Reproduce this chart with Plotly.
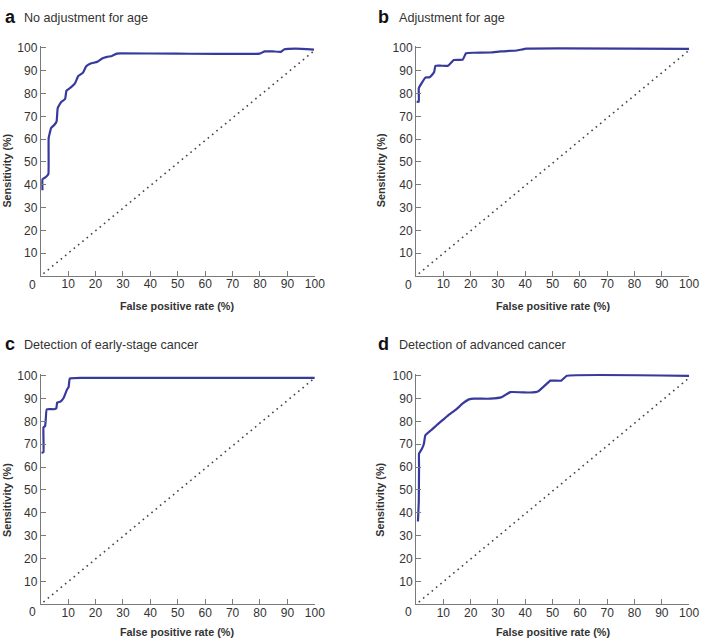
import plotly.graph_objects as go

# ---------------- data ----------------
a_fpr = [0.65, 0.65, 2.0, 2.8, 2.9, 3.8, 5.0, 5.8, 6.2, 7.4, 8.9, 9.4, 11.0, 12.5, 13.7, 15.4, 16.6,
         18.2, 20.6, 22.4, 24.2, 26.0, 27.8, 29.0, 50.0, 79.9, 81.7, 84.6, 87.6, 88.9, 93.1, 99.7]
a_sens = [37.6, 42.4, 43.5, 44.6, 60.5, 64.9, 66.3, 67.8, 73.6, 76.2, 77.6, 81.3, 82.7, 84.5, 87.7, 89.1, 92.0,
          93.2, 93.9, 95.4, 96.1, 96.5, 97.5, 97.6, 97.5, 97.5, 98.5, 98.5, 98.3, 99.4, 99.7, 99.3]

b_fpr = [0.2, 1.0, 1.0, 2.0, 3.5, 5.0, 6.6, 7.1, 9.3, 11.7, 13.8, 17.1, 18.3, 21.3, 27.3, 30.9, 36.9, 40.5, 100.0]
b_sens = [76.4, 76.4, 82.3, 84.5, 87.1, 87.1, 89.3, 92.2, 92.2, 92.2, 94.7, 94.9, 97.7, 97.9, 98.0, 98.5, 98.9, 99.7, 99.6]

c_fpr = [0.3, 1.0, 1.0, 1.6, 1.8, 2.2, 4.8, 5.7, 6.0, 7.2, 8.4, 9.6, 10.2, 10.6, 15.1, 100.0]
c_sens = [66.2, 66.5, 77.3, 78.0, 80.2, 85.3, 85.3, 85.7, 88.2, 88.6, 90.3, 93.9, 95.1, 98.7, 99.0, 99.0]

d_fpr = [0.7, 1.0, 1.1, 1.1, 2.2, 2.9, 3.4, 5.5, 7.9, 10.4, 12.2, 14.6, 17.0, 19.4, 21.2, 27.2, 31.4,
         34.5, 41.7, 44.8, 47.2, 49.2, 53.2, 55.2, 100.0]
d_sens = [36.2, 44.9, 60.1, 65.9, 68.1, 70.3, 73.9, 76.1, 78.7, 81.2, 83.0, 85.1, 87.7, 89.6, 89.9, 89.9, 90.6,
          92.8, 92.6, 93.2, 95.7, 97.8, 97.8, 99.9, 99.9]

diag_x = [1, 100]
diag_y = [1, 99]

letters = ["a", "b", "c", "d"]
titles = ["No adjustment for age", "Adjustment for age",
          "Detection of early-stage cancer", "Detection of advanced cancer"]
tick_vals = [10, 20, 30, 40, 50, 60, 70, 80, 90, 100]
tick_text = [str(v) for v in tick_vals]
x_title = "False positive rate (%)"
y_title = "Sensitivity (%)"

curves = [(a_fpr, a_sens), (b_fpr, b_sens), (c_fpr, c_sens), (d_fpr, d_sens)]

# ---------------- layout geometry (pixels) ----------------
W, H = 709, 644
YMAX = 100.8
# (x0px, x100px, y0px, px per unit y)
geo = [
    (41.3, 319.3, 273.0, 2.297),
    (422.0, 699.0, 273.0, 2.297),
    (41.3, 319.3, 604.0, 2.305),
    (422.0, 699.0, 604.0, 2.305),
]

FONT = "Arial, Liberation Sans, Helvetica, sans-serif"
CURVE = "#373a9c"
AXC = "#7a7a7a"
TXT = "#333333"

fig = go.Figure()
layout = dict(width=W, height=H, margin=dict(l=0, r=0, t=0, b=0),
              paper_bgcolor="white", plot_bgcolor="white", showlegend=False,
              font=dict(family=FONT, color=TXT, size=12))
annotations = []


def px(x):
    return x / W


def py(y):
    return 1 - y / H


for i, (g, (fx, sy)) in enumerate(zip(geo, curves)):
    x0, x1, y0, pu = g
    ytop = y0 - YMAX * pu
    xa = "x" if i == 0 else f"x{i+1}"
    ya = "y" if i == 0 else f"y{i+1}"
    xkey = "xaxis" if i == 0 else f"xaxis{i+1}"
    ykey = "yaxis" if i == 0 else f"yaxis{i+1}"
    common = dict(showgrid=False, zeroline=False, showline=True, linecolor=AXC, linewidth=1,
                  ticks="inside", ticklen=5, tickcolor=AXC, tickwidth=1,
                  tickvals=tick_vals, ticktext=tick_text,
                  tickfont=dict(family=FONT, size=12, color=TXT), fixedrange=True)
    layout[xkey] = dict(common, domain=[px(x0), px(x1)], range=[0, 100], anchor=ya,
                        ticklabelstandoff=-3)
    layout[ykey] = dict(common, domain=[py(y0), py(ytop)], range=[0, YMAX], anchor=xa)

    fig.add_trace(go.Scatter(x=diag_x, y=diag_y, mode="lines", xaxis=xa, yaxis=ya,
                             line=dict(color="#444444", width=1.6, dash="1.6px,4px"),
                             hoverinfo="skip"))
    fig.add_trace(go.Scatter(x=fx, y=sy, mode="lines", xaxis=xa, yaxis=ya,
                             line=dict(color=CURVE, width=2.2, shape="spline", smoothing=0.3)))

    left = i % 2 == 0
    top = i < 2
    # panel letter and title
    ty = 12 if top else 342
    lx = 3 if left else 381
    tx = 22 if left else 403
    annotations.append(dict(x=px(lx), y=py(ty), xref="paper", yref="paper", xanchor="left", yanchor="middle",
                            text=f"<b>{letters[i]}</b>", showarrow=False,
                            font=dict(family=FONT, size=18, color="#111111")))
    annotations.append(dict(x=px(tx), y=py(ty + 1), xref="paper", yref="paper", xanchor="left", yanchor="middle",
                            text=titles[i], showarrow=False,
                            font=dict(family=FONT, size=12.6, color=TXT)))
    # y title
    yt_x = 7 if left else 386
    yt_y = 167 if top else 499
    annotations.append(dict(x=px(yt_x), y=py(yt_y), xref="paper", yref="paper", xanchor="center", yanchor="middle",
                            text=f"<b>{y_title}</b>", textangle=-90, showarrow=False,
                            font=dict(family=FONT, size=10.8, color=TXT)))
    # x title
    xt_x = 180 if left else 561
    xt_y = 303 if top else 632
    annotations.append(dict(x=px(xt_x), y=py(xt_y), xref="paper", yref="paper", xanchor="center", yanchor="middle",
                            text=f"<b>{x_title}</b>", showarrow=False,
                            font=dict(family=FONT, size=10.8, color=TXT)))
    # origin "0"
    zx = 33 if left else 414
    zy = 282 if top else 612
    annotations.append(dict(x=px(zx), y=py(zy), xref="paper", yref="paper", xanchor="center", yanchor="middle",
                            text="0", showarrow=False, font=dict(family=FONT, size=12, color=TXT)))

layout["annotations"] = annotations
fig.update_layout(**layout)

post = ("document.body.style.margin='0px';document.body.style.padding='0px';"
        "document.body.style.overflow='hidden';"
        "var gd=document.getElementById('{plot_id}');"
        "gd.style.position='absolute';gd.style.left='0px';gd.style.top='0px';")
fig.write_html("out.html", post_script=post, config={"displayModeBar": False})
